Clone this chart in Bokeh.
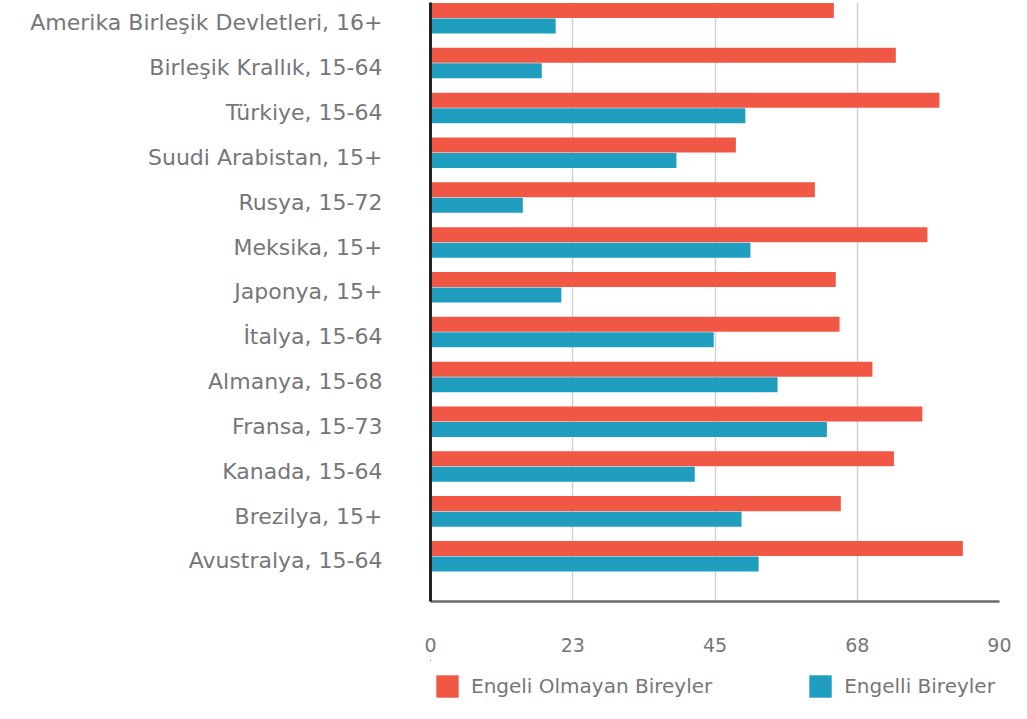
from bokeh.plotting import figure
from bokeh.layouts import column
from bokeh.models import (ColumnDataSource, Range1d, FixedTicker, NumeralTickFormatter,
                          Legend, LegendItem)
from bokeh.transform import dodge
from bokeh.embed import file_html
from bokeh.resources import INLINE

countries = [
    "Amerika Birleşik Devletleri, 16+",
    "Birleşik Krallık, 15-64",
    "Türkiye, 15-64",
    "Suudi Arabistan, 15+",
    "Rusya, 15-72",
    "Meksika, 15+",
    "Japonya, 15+",
    "İtalya, 15-64",
    "Almanya, 15-68",
    "Fransa, 15-73",
    "Kanada, 15-64",
    "Brezilya, 15+",
    "Avustralya, 15-64",
]
engeli_olmayan = [63.8, 73.6, 80.5, 48.3, 60.8, 78.6, 64.1, 64.7, 69.9, 77.8, 73.3, 64.9, 84.2]
engelli = [19.8, 17.6, 49.8, 38.9, 14.6, 50.6, 20.7, 44.8, 54.9, 62.7, 41.8, 49.2, 51.9]
x_ticks = [0, 22.5, 45, 67.5, 90]
series_names = ["Engeli Olmayan Bireyler", "Engelli Bireyler"]

RED = "#F05745"
BLUE = "#209EC0"
GREY = "#76767a"
FONT = "DejaVu Sans"

src = ColumnDataSource(dict(
    pos=list(range(len(countries))),
    red=engeli_olmayan,
    blue=engelli,
))

BORDER_L, BORDER_R = 430, 12

p = figure(width=1011, height=660, output_backend="svg", toolbar_location=None,
           x_range=Range1d(0, 90), y_range=Range1d(12.904, -0.457),
           min_border_left=BORDER_L, min_border_right=BORDER_R, min_border_top=2,
           min_border_bottom=59)
p.outline_line_color = None
p.background_fill_color = "white"

bar_style = dict(source=src, height=0.335, left=0, line_color=None)
r1 = p.hbar(y=dodge("pos", -0.279, range=p.y_range), right="red", color=RED, **bar_style)
r2 = p.hbar(y=dodge("pos", 0.067, range=p.y_range), right="blue", color=BLUE, **bar_style)

# x axis
p.xaxis.ticker = FixedTicker(ticks=x_ticks)
p.xaxis.formatter = NumeralTickFormatter(format="0")
p.xaxis.axis_line_color = "#6a6a6e"
p.xaxis.axis_line_width = 2.5
p.xaxis.major_tick_line_color = None
p.xaxis.minor_tick_line_color = None
p.xaxis.major_label_standoff = 30
p.xaxis.major_label_text_font = FONT
p.xaxis.major_label_text_font_size = "19px"
p.xaxis.major_label_text_color = GREY

# y axis
p.yaxis.ticker = FixedTicker(ticks=list(range(len(countries))))
p.yaxis.major_label_overrides = {i: c for i, c in enumerate(countries)}
p.yaxis.axis_line_color = "#222222"
p.yaxis.axis_line_width = 3
p.yaxis.major_tick_line_color = None
p.yaxis.minor_tick_line_color = None
p.yaxis.major_label_standoff = 42
p.yaxis.major_label_text_font = FONT
p.yaxis.major_label_text_font_size = "22px"
p.yaxis.major_label_text_color = GREY

p.ygrid.grid_line_color = None
p.xgrid.ticker = FixedTicker(ticks=x_ticks[1:])
p.xgrid.grid_line_color = "#d2d2d2"
p.xgrid.grid_line_width = 1.5

# legend strip below the chart (same series, ranged out of view; only the legend shows)
lg = figure(width=1011, height=43, output_backend="svg", toolbar_location=None,
            x_axis_type=None, y_axis_type=None,
            min_border_left=BORDER_L, min_border_right=BORDER_R,
            min_border_top=0, min_border_bottom=0,
            x_range=Range1d(1000, 1001), y_range=Range1d(-1000, -999))
lg.outline_line_color = None
lg.grid.grid_line_color = None
q1 = lg.hbar(y="pos", right="red", color=RED, **bar_style)
q2 = lg.hbar(y="pos", right="blue", color=BLUE, **bar_style)
legend = Legend(items=[LegendItem(label=series_names[0], renderers=[q1]),
                       LegendItem(label=series_names[1], renderers=[q2])],
                location="bottom_left", orientation="horizontal",
                glyph_width=28, glyph_height=28, label_standoff=10,
                padding=0, margin=3, spacing=94,
                border_line_color=None, background_fill_alpha=0,
                label_text_font=FONT, label_text_font_size="20px",
                label_text_color=GREY)
lg.add_layout(legend)

layout = column(p, lg, spacing=0)
open("out.html", "w").write(file_html(layout, INLINE))
